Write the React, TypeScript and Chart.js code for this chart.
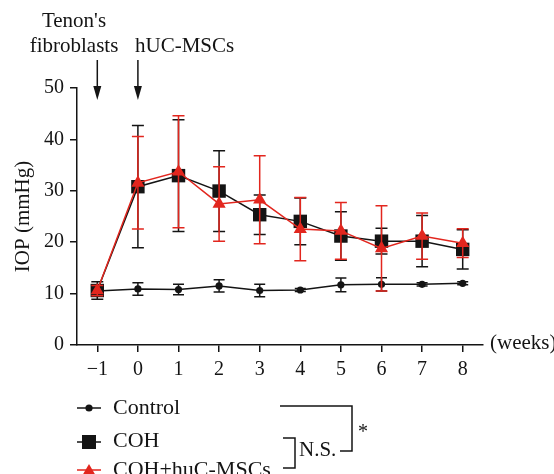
import React, { useEffect, useRef } from "react";
import { Chart, registerables } from "chart.js";

Chart.register(...registerables);

// ---- data ----
const weeks = [-1, 0, 1, 2, 3, 4, 5, 6, 7, 8];
const controlIOP = [10.5, 10.9, 10.8, 11.5, 10.6, 10.7, 11.7, 11.8, 11.8, 12.0];
const controlSD = [0.6, 1.2, 1.0, 1.2, 1.2, 0.3, 1.35, 1.3, 0.3, 0.3];
const cohIOP = [10.6, 30.8, 32.95, 29.95, 25.35, 24.05, 21.2, 20.2, 20.2, 18.6];
const cohSD = [1.7, 11.9, 10.85, 7.85, 3.85, 4.55, 4.7, 2.5, 5.0, 3.8];
const mscIOP = [10.6, 31.55, 33.7, 27.45, 28.25, 22.55, 22.2, 18.8, 21.2, 19.8];
const mscSD = [1.0, 9.0, 10.9, 7.25, 8.55, 6.15, 5.5, 8.3, 4.5, 2.8];
const yTicks = [0, 10, 20, 30, 40, 50];
const seriesNames = ["Control", "COH", "COH+huC-MSCs"];
const yTitle = "IOP (mmHg)";
const xUnit = "(weeks)";
const arrowLabels = ["Tenon's", "fibroblasts", "hUC-MSCs"];
const arrowWeeks = [-1, 0];
const sigLabels = ["*", "N.S."];

const FONT = '"Liberation Serif", "Times New Roman", serif';
const BLACK = "#141414";
const RED = "#e2261e";

const errorBarPlugin = {
  id: "errorBars",
  beforeDatasetDraw(chart: any, args: any) {
    const ds = chart.data.datasets[args.index];
    const errs: number[] = ds.errors;
    if (!errs) return;
    const yScale = chart.scales.y;
    const ctx = chart.ctx;
    const half = ds.capHalf || 6;
    ctx.save();
    ctx.strokeStyle = ds.borderColor;
    ctx.lineWidth = 1.5;
    args.meta.data.forEach((el: any, i: number) => {
      const v = ds.data[i].y;
      const e = errs[i];
      const yt = yScale.getPixelForValue(v + e);
      const yb = yScale.getPixelForValue(v - e);
      ctx.beginPath();
      ctx.moveTo(el.x, yt);
      ctx.lineTo(el.x, yb);
      ctx.moveTo(el.x - half, yt);
      ctx.lineTo(el.x + half, yt);
      ctx.moveTo(el.x - half, yb);
      ctx.lineTo(el.x + half, yb);
      ctx.stroke();
    });
    ctx.restore();
  },
};

const annotationPlugin = {
  id: "annotations",
  afterDraw(chart: any) {
    const ctx = chart.ctx;
    const xs = chart.scales.x;
    const area = chart.chartArea;
    ctx.save();
    ctx.fillStyle = BLACK;
    ctx.strokeStyle = BLACK;
    ctx.font = `21px ${FONT}`;
    ctx.textBaseline = "alphabetic";
    ctx.textAlign = "center";
    ctx.fillText(arrowLabels[0], 74, 27);
    ctx.fillText(arrowLabels[1], 74, 52);
    ctx.textAlign = "left";
    ctx.fillText(arrowLabels[2], 135, 52);
    // arrows
    ctx.lineWidth = 1.5;
    arrowWeeks.forEach((w) => {
      const x = xs.getPixelForValue(w);
      ctx.beginPath();
      ctx.moveTo(x, 60);
      ctx.lineTo(x, 90);
      ctx.stroke();
      ctx.beginPath();
      ctx.moveTo(x - 4, 86);
      ctx.lineTo(x + 4, 86);
      ctx.lineTo(x, 100);
      ctx.closePath();
      ctx.fill();
    });
    // (weeks)
    ctx.textAlign = "left";
    ctx.textBaseline = "middle";
    ctx.fillText(xUnit, area.right + 7, area.bottom - 2);

    // legend
    ctx.textBaseline = "alphabetic";
    ctx.font = `22px ${FONT}`;
    const lx0 = 77, lx1 = 101, mx = 89, tx = 113;
    // Control
    ctx.lineWidth = 1.5;
    ctx.strokeStyle = BLACK;
    ctx.beginPath(); ctx.moveTo(lx0, 408); ctx.lineTo(lx1, 408); ctx.stroke();
    ctx.beginPath(); ctx.arc(mx, 408, 3.6, 0, Math.PI * 2); ctx.fill();
    ctx.fillText(seriesNames[0], tx, 414);
    // COH
    ctx.beginPath(); ctx.moveTo(lx0, 442); ctx.lineTo(lx1, 442); ctx.stroke();
    ctx.fillRect(mx - 7, 442 - 7, 14, 14);
    ctx.fillText(seriesNames[1], tx, 447);
    // COH+huC-MSCs
    ctx.strokeStyle = RED;
    ctx.fillStyle = RED;
    ctx.beginPath(); ctx.moveTo(lx0, 470); ctx.lineTo(lx1, 470); ctx.stroke();
    ctx.beginPath(); ctx.moveTo(mx, 464); ctx.lineTo(mx + 7, 476); ctx.lineTo(mx - 7, 476); ctx.closePath(); ctx.fill();
    ctx.fillStyle = BLACK;
    ctx.fillText(seriesNames[2], tx, 476);

    // brackets
    ctx.strokeStyle = BLACK;
    ctx.lineWidth = 1.5;
    ctx.beginPath();
    ctx.moveTo(280, 406); ctx.lineTo(352, 406); ctx.lineTo(352, 451); ctx.lineTo(340, 451);
    ctx.stroke();
    ctx.beginPath();
    ctx.moveTo(283, 438); ctx.lineTo(295, 438); ctx.lineTo(295, 468); ctx.lineTo(283, 468);
    ctx.stroke();
    ctx.font = `20px ${FONT}`;
    ctx.fillText(sigLabels[0], 358, 438);
    ctx.font = `21px ${FONT}`;
    ctx.fillText(sigLabels[1], 299, 456);
    ctx.restore();
  },
};

export default function App() {
  const ref = useRef<HTMLCanvasElement | null>(null);
  useEffect(() => {
    document.body.style.margin = "0";
    const canvas = ref.current;
    if (!canvas) return;
    const mk = (vals: number[]) => weeks.map((w, i) => ({ x: w, y: vals[i] }));
    const chart = new Chart(canvas, {
      type: "line",
      data: {
        datasets: [
          {
            label: seriesNames[2],
            data: mk(mscIOP),
            errors: mscSD,
            capHalf: 6,
            borderColor: RED,
            backgroundColor: RED,
            pointBackgroundColor: RED,
            pointBorderColor: RED,
            pointStyle: "triangle",
            pointRadius: 7.6,
            pointBorderWidth: 0,
            borderWidth: 1.5,
            tension: 0,
            order: 0,
          },
          {
            label: seriesNames[1],
            data: mk(cohIOP),
            errors: cohSD,
            capHalf: 6,
            borderColor: BLACK,
            backgroundColor: BLACK,
            pointBackgroundColor: BLACK,
            pointBorderColor: BLACK,
            pointStyle: "rect",
            pointRadius: 9.5,
            pointBorderWidth: 0,
            borderWidth: 1.5,
            tension: 0,
            order: 1,
          },
          {
            label: seriesNames[0],
            data: mk(controlIOP),
            errors: controlSD,
            capHalf: 5.5,
            borderColor: BLACK,
            backgroundColor: BLACK,
            pointBackgroundColor: BLACK,
            pointBorderColor: BLACK,
            pointStyle: "circle",
            pointRadius: 3.6,
            pointBorderWidth: 0,
            borderWidth: 1.5,
            tension: 0,
            order: 2,
          },
        ] as any,
      },
      options: {
        animation: false,
        responsive: false,
        devicePixelRatio: 1,
        layout: { padding: { left: 0, top: 88, right: 71, bottom: 0 } },
        plugins: { legend: { display: false }, tooltip: { enabled: false } },
        scales: {
          x: {
            type: "linear",
            min: -1.5,
            max: 8.5,
            afterBuildTicks: (s: any) => {
              s.ticks = weeks.map((v) => ({ value: v }));
            },
            afterFit: (s: any) => {
              s.height = 129;
            },
            grid: { drawOnChartArea: false, drawTicks: true, tickLength: 7, color: BLACK, lineWidth: 1.5 },
            border: { color: BLACK, width: 1.5 },
            ticks: {
              font: { family: FONT, size: 20 },
              color: BLACK,
              padding: 6,
              maxRotation: 0,
              autoSkip: false,
              callback: (v: any) => (Number(v) < 0 ? "\u2212" + Math.abs(Number(v)) : String(v)),
            },
          },
          y: {
            type: "linear",
            min: 0,
            max: 50,
            afterBuildTicks: (s: any) => {
              s.ticks = yTicks.map((v) => ({ value: v }));
            },
            afterFit: (s: any) => {
              s.width = 77;
            },
            grid: { drawOnChartArea: false, drawTicks: true, tickLength: 7, color: BLACK, lineWidth: 1.5 },
            border: { color: BLACK, width: 1.5 },
            ticks: { font: { family: FONT, size: 20 }, color: BLACK, padding: 6 },
            title: {
              display: true,
              text: yTitle,
              font: { family: FONT, size: 21 },
              color: BLACK,
              padding: { top: 11, bottom: 0 },
            },
          },
        },
      } as any,
      plugins: [errorBarPlugin, annotationPlugin],
    });
    return () => chart.destroy();
  }, []);
  return (
    <div style={{ position: "absolute", left: 0, top: 0, width: 554, height: 474 }}>
      <canvas ref={ref} width={554} height={474} style={{ width: 554, height: 474 }} />
    </div>
  );
}
